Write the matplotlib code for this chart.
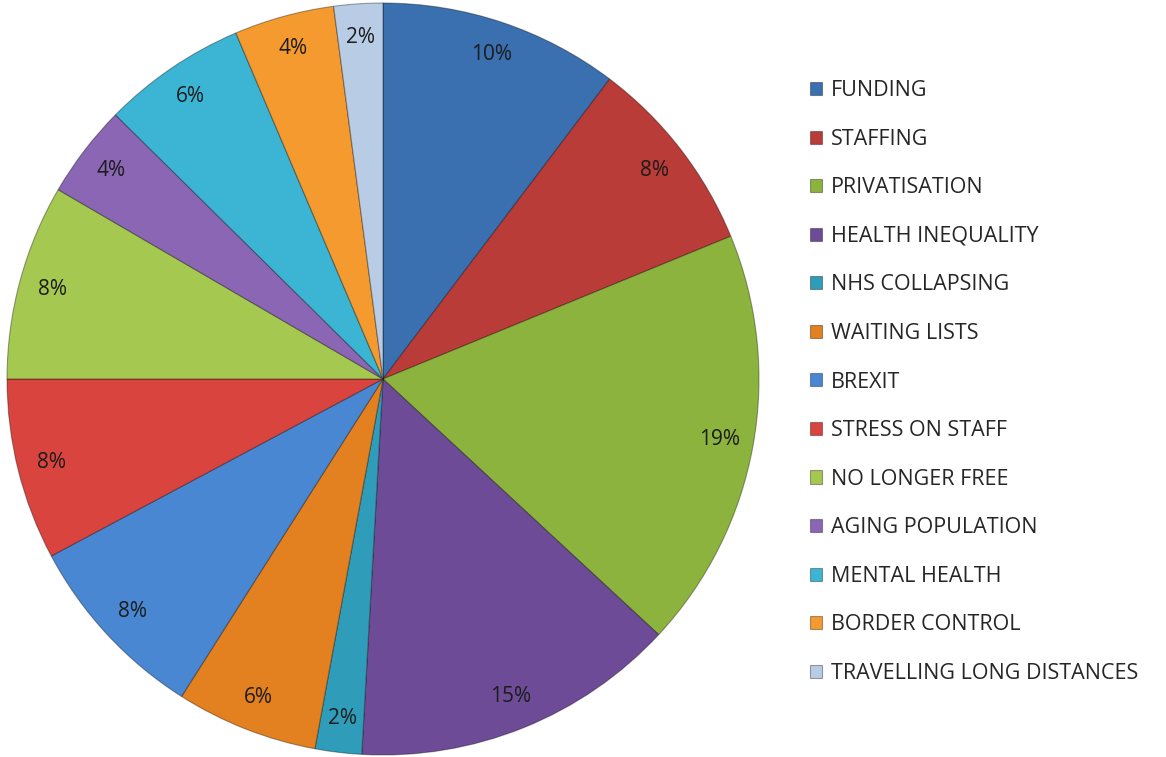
import matplotlib.pyplot as plt

plt.rcParams['font.family'] = ['Open Sans', 'DejaVu Sans']

# issues raised: slice shares (%) as measured from the slice angles,
# and the percentage labels printed on the chart
labels = ['FUNDING', 'STAFFING', 'PRIVATISATION', 'HEALTH INEQUALITY',
          'NHS COLLAPSING', 'WAITING LISTS', 'BREXIT', 'STRESS ON STAFF',
          'NO LONGER FREE', 'AGING POPULATION', 'MENTAL HEALTH',
          'BORDER CONTROL', 'TRAVELLING LONG DISTANCES']
shares = [10.3, 8.5, 18.1, 14.0, 2.0, 6.1, 8.2, 7.8, 8.4, 4.0, 6.2, 4.3, 2.1]
pct_labels = ['10%', '8%', '19%', '15%', '2%', '6%', '8%', '8%', '8%',
              '4%', '6%', '4%', '2%']
colors = ['#3a6fb0', '#b93c38', '#8db33f', '#6d4b96', '#2f9dba', '#e3801f',
          '#4a87d2', '#d9443f', '#a4c850', '#8a66b5', '#3cb5d5', '#f59a2f',
          '#b8cce6']

fig = plt.figure(figsize=(11.66, 7.57), dpi=100)
W, H = 1166, 757
cx, cy, r = 383, 379, 376
ax = fig.add_axes([(cx - r) / W, (H - cy - r) / H, 2 * r / W, 2 * r / H])

wedges, texts = ax.pie(
    shares, labels=pct_labels, colors=colors, startangle=90,
    counterclock=False, labeldistance=0.91, radius=1,
    wedgeprops=dict(edgecolor=(0, 0, 0, 0.35), linewidth=0.8),
    textprops=dict(color='#1c1c1c', fontsize=15))
for t in texts:
    t.set_ha('center')
    t.set_va('center')
ax.set_xlim(-1, 1)
ax.set_ylim(-1, 1)
ax.set_aspect('auto')
ax.axis('off')

fig.legend(wedges, labels, loc='center left',
           bbox_to_anchor=(810 / W, 1 - 382 / H),
           frameon=False, fontsize=15.5, handlelength=0.56, handleheight=0.56,
           handletextpad=0.42, labelspacing=1.28, borderaxespad=0, borderpad=0,
           labelcolor='#262626')

fig.savefig('out.png', dpi=100)
